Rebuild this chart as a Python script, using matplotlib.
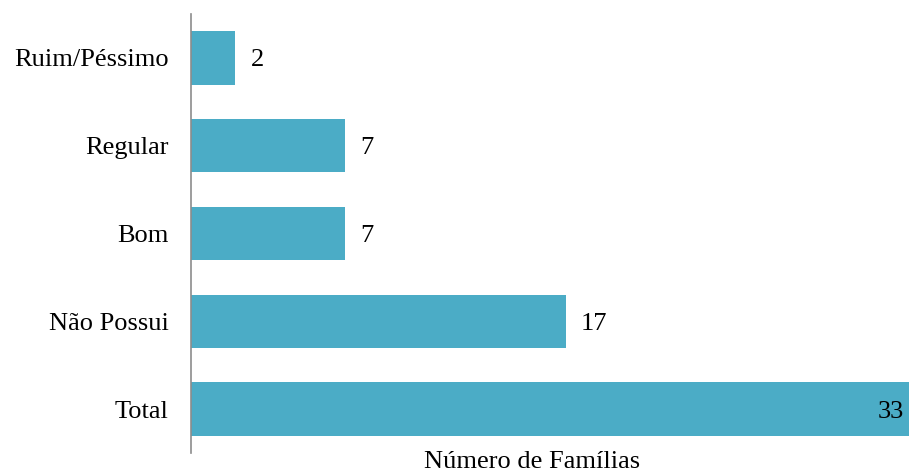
import matplotlib.pyplot as plt

categories = ['Total', 'Não Possui', 'Bom', 'Regular', 'Ruim/Péssimo']
values = [33, 17, 7, 7, 2]

plt.rcParams['font.family'] = ['Liberation Serif', 'DejaVu Serif']
fs = 19

fig = plt.figure(figsize=(9.09, 4.72), dpi=100)
# axes run a little past the right edge, like the original where the longest bar is cut
ax = fig.add_axes([191 / 909, 19 / 472, 727 / 909, 439 / 472])

ax.barh(range(len(categories)), values, height=0.61, color='#4BACC6')

for i, v in enumerate(values):
    if v == max(values):
        ax.text(v - 0.65, i, str(v), va='center_baseline', ha='right', fontsize=fs)
    else:
        ax.text(v + 0.7, i, str(v), va='center_baseline', ha='left', fontsize=fs)

ax.set_xlim(0, 33)
ax.set_ylim(-0.5, 4.5)
ax.set_yticks(range(len(categories)))
ax.set_yticklabels(categories, fontsize=fs, va='center_baseline')
ax.tick_params(axis='y', length=0, pad=16)
ax.set_xticks([])
for s in ['top', 'right', 'bottom']:
    ax.spines[s].set_visible(False)
ax.spines['left'].set_color('#8c8c8c')
ax.spines['left'].set_linewidth(1.2)

fig.text(0.585, 0.022, 'Número de Famílias', ha='center', va='center', fontsize=fs)

fig.savefig('out.png', dpi=100)
